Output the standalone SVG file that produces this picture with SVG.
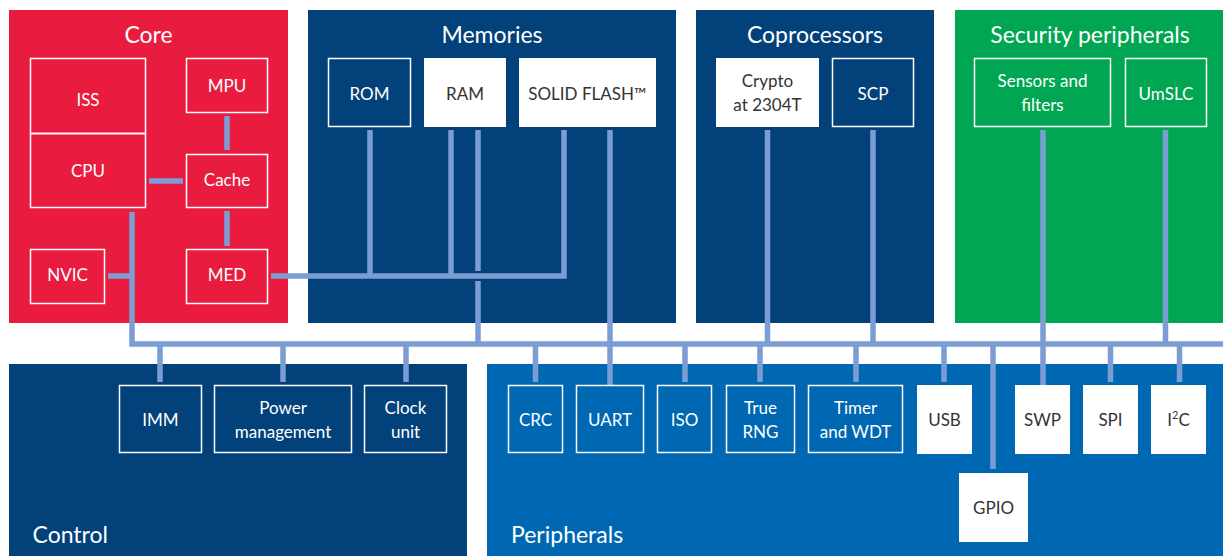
<svg xmlns="http://www.w3.org/2000/svg" width="1223" height="556" viewBox="0 0 1223 556">
<style>
.bg{fill:#ffffff}
.core{fill:#E91C40}
.navy{fill:#03417A}
.green{fill:#00A651}
.blue{fill:#0067B2}
.ol{fill:none;stroke:#ffffff;stroke-width:1.5}
.wb{fill:#ffffff}
.title{font-family:Lato,"Liberation Sans",sans-serif;font-size:23px;fill:#ffffff;text-anchor:middle}
.ptitle{font-family:Lato,"Liberation Sans",sans-serif;font-size:23px;fill:#ffffff}
.lbl{font-family:Lato,"Liberation Sans",sans-serif;font-size:17px;fill:#ffffff;text-anchor:middle}
.dk{fill:#333333}
.conn path{fill:none;stroke:#7C9DD3;stroke-width:5.5}
</style>
<rect class="bg" x="0" y="0" width="1223" height="556"/>
<g id="panels">
<g id="core"><rect class="core" x="9" y="10" width="279" height="313"/><text class="title" x="148.5" y="43">Core</text></g>
<g id="memories"><rect class="navy" x="308" y="10" width="368" height="313"/><text class="title" x="492" y="43">Memories</text></g>
<g id="coprocessors"><rect class="navy" x="696" y="10" width="238" height="313"/><text class="title" x="815" y="43">Coprocessors</text></g>
<g id="security"><rect class="green" x="955" y="10" width="268" height="313"/><text class="title" x="1090" y="43">Security peripherals</text></g>
<g id="control"><rect class="navy" x="9" y="364" width="458" height="192"/><text class="ptitle" x="32.5" y="543">Control</text></g>
<g id="peripherals"><rect class="blue" x="487" y="364" width="736" height="192"/><text class="ptitle" x="511" y="543">Peripherals</text></g>
</g>
<g id="connectors" class="conn">
<path d="M227,116V150"/>
<path d="M149,181H183"/>
<path d="M227,211V246"/>
<path d="M108,276H132"/>
<path d="M132,212V344H1223"/>
<path d="M271,276H564V130"/>
<path d="M370,130V276"/>
<path d="M451,130V276"/>
<path d="M478,130V271"/>
<path d="M478,281V344"/>
<path d="M610,130V385"/>
<path d="M767.5,130V344"/>
<path d="M873,130V344"/>
<path d="M1043,130V385"/>
<path d="M1165.5,130V344"/>
<path d="M160,344V382"/>
<path d="M283,344V382"/>
<path d="M406,344V382"/>
<path d="M535.5,344V382"/>
<path d="M685,344V382"/>
<path d="M760,344V382"/>
<path d="M856,344V382"/>
<path d="M944,344V382"/>
<path d="M993,344V469"/>
<path d="M1110.5,344V382"/>
<path d="M1179.5,344V382"/>
</g>
<g id="iss"><rect class="ol" x="30.5" y="58.5" width="115" height="75"/><text class="lbl" x="88" y="106">ISS</text></g>
<g id="cpu"><rect class="ol" x="30.5" y="133.5" width="115" height="74"/><text class="lbl" x="88" y="177">CPU</text></g>
<g id="mpu"><rect class="ol" x="186.5" y="58.5" width="81" height="54"/><text class="lbl" x="227" y="92">MPU</text></g>
<g id="cache"><rect class="ol" x="186.5" y="154.5" width="81" height="53"/><text class="lbl" x="227" y="186">Cache</text></g>
<g id="nvic"><rect class="ol" x="30.5" y="249.5" width="74" height="54"/><text class="lbl" x="67.5" y="281">NVIC</text></g>
<g id="med"><rect class="ol" x="186.5" y="249.5" width="81" height="54"/><text class="lbl" x="227" y="281">MED</text></g>
<g id="rom"><rect class="ol" x="328.5" y="58.5" width="82" height="68"/><text class="lbl" x="369.5" y="100">ROM</text></g>
<g id="ram"><rect class="wb" x="424" y="58" width="82" height="69"/><text class="lbl dk" x="465" y="100">RAM</text></g>
<g id="flash"><rect class="wb" x="519" y="58" width="137" height="69"/><text class="lbl dk" x="587.5" y="100">SOLID FLASH™</text></g>
<g id="crypto"><rect class="wb" x="716" y="58" width="103" height="69"/><text class="lbl dk" x="767.5" y="87">Crypto</text><text class="lbl dk" x="767.5" y="111">at 2304T</text></g>
<g id="scp"><rect class="ol" x="832.5" y="58.5" width="81" height="68"/><text class="lbl" x="873" y="100">SCP</text></g>
<g id="sensors"><rect class="ol" x="974.5" y="58.5" width="136" height="68"/><text class="lbl" x="1042.5" y="87">Sensors and</text><text class="lbl" x="1042.5" y="111">filters</text></g>
<g id="umslc"><rect class="ol" x="1125.5" y="58.5" width="81" height="68"/><text class="lbl" x="1166" y="100">UmSLC</text></g>
<g id="imm"><rect class="ol" x="119.5" y="385.5" width="82" height="67"/><text class="lbl" x="160.5" y="426">IMM</text></g>
<g id="power"><rect class="ol" x="214.5" y="385.5" width="137" height="67"/><text class="lbl" x="283" y="414">Power</text><text class="lbl" x="283" y="438">management</text></g>
<g id="clock"><rect class="ol" x="364.5" y="385.5" width="82" height="67"/><text class="lbl" x="405.5" y="414">Clock</text><text class="lbl" x="405.5" y="438">unit</text></g>
<g id="crc"><rect class="ol" x="508.5" y="385.5" width="54" height="67"/><text class="lbl" x="535.5" y="426">CRC</text></g>
<g id="uart"><rect class="ol" x="576.5" y="385.5" width="67" height="67"/><text class="lbl" x="610" y="426">UART</text></g>
<g id="iso"><rect class="ol" x="657.5" y="385.5" width="54" height="67"/><text class="lbl" x="684.5" y="426">ISO</text></g>
<g id="trng"><rect class="ol" x="726.5" y="385.5" width="68" height="67"/><text class="lbl" x="760.5" y="414">True</text><text class="lbl" x="760.5" y="438">RNG</text></g>
<g id="timer"><rect class="ol" x="808.5" y="385.5" width="94" height="67"/><text class="lbl" x="855.5" y="414">Timer</text><text class="lbl" x="855.5" y="438">and WDT</text></g>
<g id="usb"><rect class="wb" x="917" y="385" width="55" height="69"/><text class="lbl dk" x="944.5" y="426">USB</text></g>
<g id="gpio"><rect class="wb" x="959" y="473" width="69" height="69"/><text class="lbl dk" x="993.5" y="514">GPIO</text></g>
<g id="swp"><rect class="wb" x="1015" y="385" width="55" height="69"/><text class="lbl dk" x="1042.5" y="426">SWP</text></g>
<g id="spi"><rect class="wb" x="1083" y="385" width="55" height="69"/><text class="lbl dk" x="1110.5" y="426">SPI</text></g>
<g id="i2c"><rect class="wb" x="1151" y="385" width="55" height="69"/><text class="lbl dk" x="1178.5" y="426">I<tspan font-size="11" dy="-7">2</tspan><tspan dy="7">C</tspan></text></g>
</svg>
